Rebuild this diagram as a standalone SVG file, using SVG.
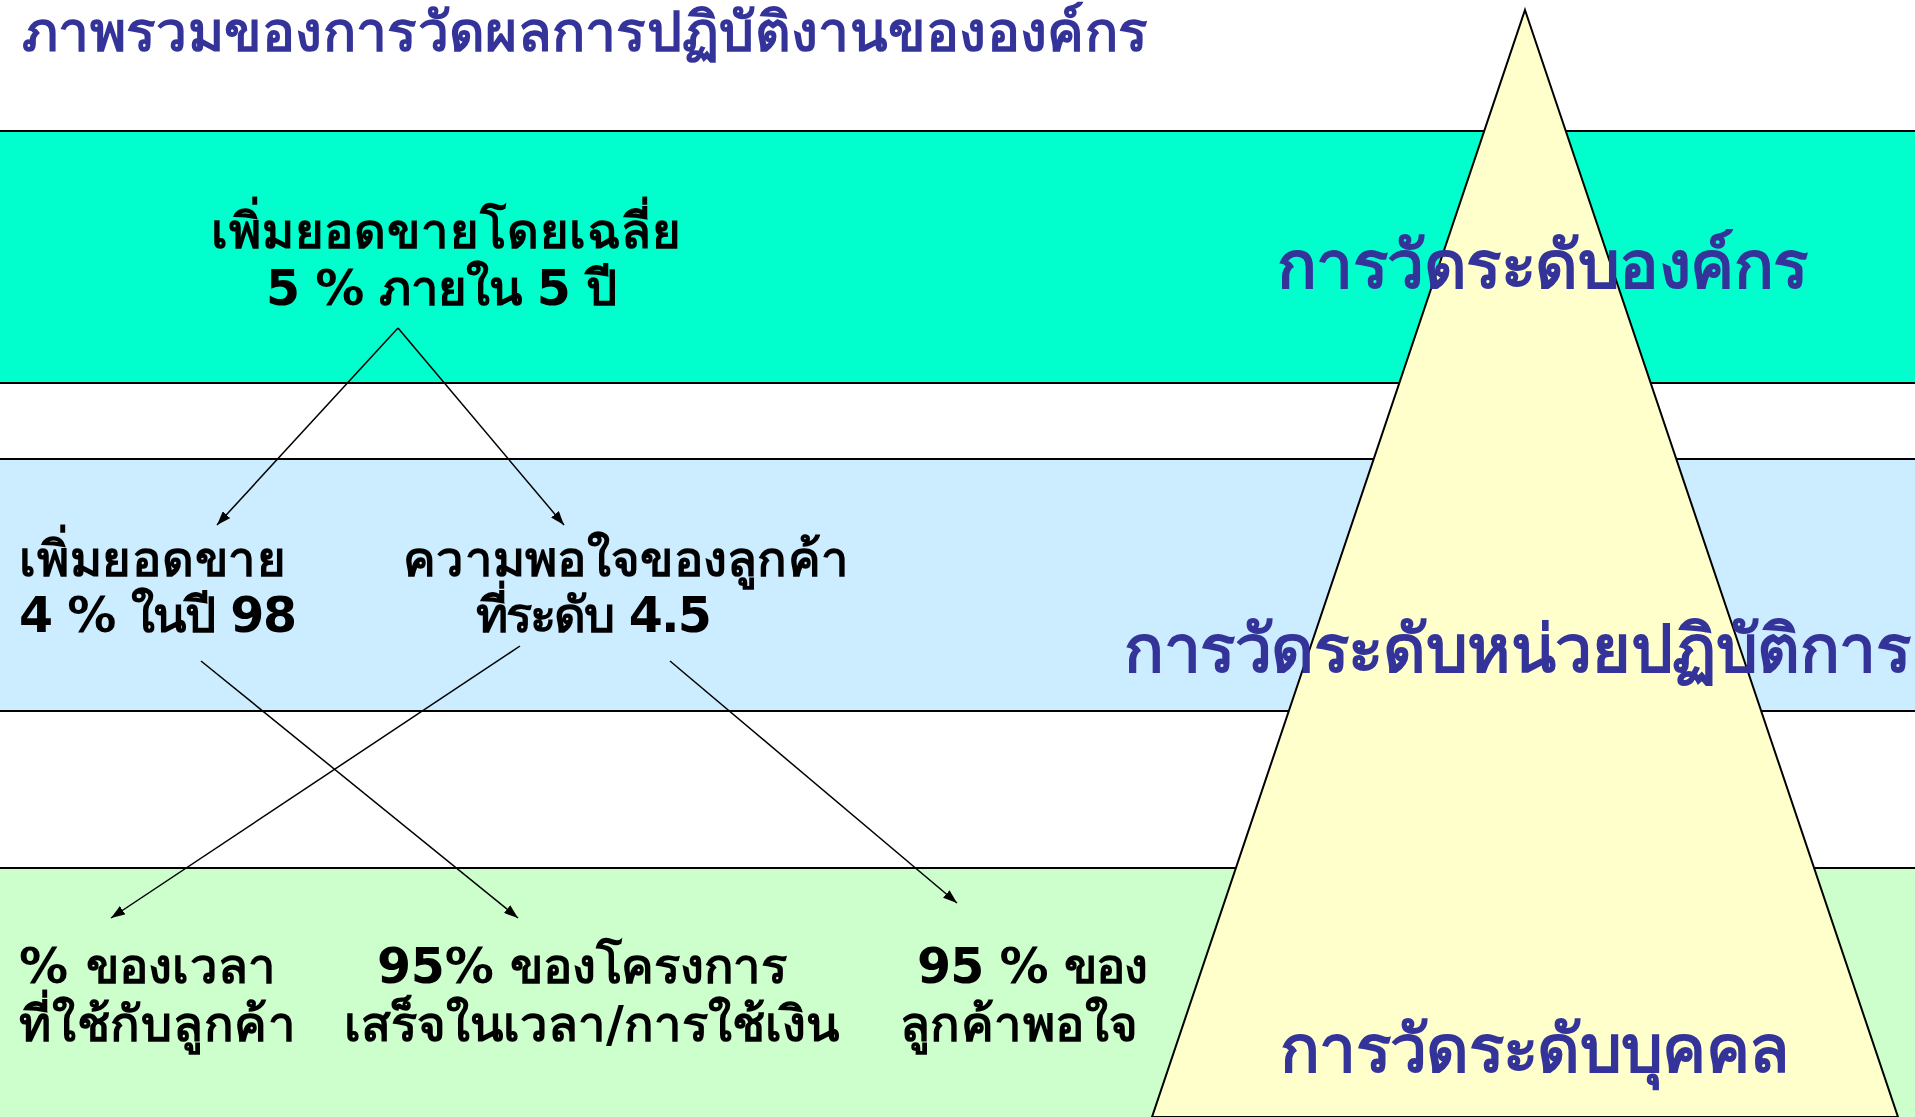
<svg xmlns="http://www.w3.org/2000/svg" width="1915" height="1117" viewBox="0 0 1915 1117">
<defs>
<marker id="ah" markerWidth="14" markerHeight="10" refX="14" refY="5" orient="auto" markerUnits="userSpaceOnUse">
<path d="M0,0 L14,5 L0,10 Z" fill="#000"/>
</marker>
<style>
.band{stroke:#000;stroke-width:2}
.lvl{font-family:"DejaVu Sans",sans-serif;font-weight:bold;fill:#333399;font-size:66px}
.t{font-family:"DejaVu Sans",sans-serif;font-weight:bold;fill:#000;font-size:49px}
.ttl{font-family:"DejaVu Sans",sans-serif;font-weight:bold;fill:#333399;font-size:55px}
.c{stroke:#000;stroke-width:1.5;fill:none;marker-end:url(#ah)}
</style>
</defs>
<rect width="1915" height="1117" fill="#fff"/>
<g id="bands">
<rect class="band" x="-5" y="131" width="1925" height="252" fill="#00FFCC"/>
<rect class="band" x="-5" y="459" width="1925" height="252" fill="#CCECFF"/>
<rect class="band" x="-5" y="868" width="1925" height="260" fill="#CCFFCC"/>
</g>
<g id="pyramid">
<polygon points="1525,10 1898,1117 1152,1117" fill="#FFFFCC" stroke="#000" stroke-width="2"/>
</g>
<g id="title"><text class="ttl" x="22" y="51" textLength="1126" lengthAdjust="spacing">ภาพรวมของการวัดผลการปฏิบัติงานขององค์กร</text></g>
<g id="level-org"><text class="lvl" x="1277" y="288" textLength="531" lengthAdjust="spacing">การวัดระดับองค์กร</text></g>
<g id="level-unit"><text class="lvl" x="1124" y="672" textLength="787" lengthAdjust="spacing">การวัดระดับหน่วยปฏิบัติการ</text></g>
<g id="level-person"><text class="lvl" x="1280" y="1072" textLength="509" lengthAdjust="spacing">การวัดระดับบุคคล</text></g>
<g id="n-goal"><text class="t" x="211" y="248" textLength="470" lengthAdjust="spacing">เพิ่มยอดขายโดยเฉลี่ย</text><text class="t" x="266" y="305" textLength="351" lengthAdjust="spacing">5 % ภายใน 5 ปี</text></g>
<g id="n-sales"><text class="t" x="19" y="576" textLength="267" lengthAdjust="spacing">เพิ่มยอดขาย</text><text class="t" x="19" y="632" textLength="278" lengthAdjust="spacing">4 % ในปี 98</text></g>
<g id="n-satisfaction"><text class="t" x="403" y="576" textLength="446" lengthAdjust="spacing">ความพอใจของลูกค้า</text><text class="t" x="474" y="632" textLength="236" lengthAdjust="spacing">ที่ระดับ 4.5</text></g>
<g id="n-time"><text class="t" x="19" y="983" textLength="257" lengthAdjust="spacing">% ของเวลา</text><text class="t" x="19" y="1041" textLength="277" lengthAdjust="spacing">ที่ใช้กับลูกค้า</text></g>
<g id="n-projects"><text class="t" x="377" y="983" textLength="410" lengthAdjust="spacing">95% ของโครงการ</text><text class="t" x="344" y="1041" textLength="495" lengthAdjust="spacing">เสร็จในเวลา/การใช้เงิน</text></g>
<g id="n-customers"><text class="t" x="917" y="983" textLength="231" lengthAdjust="spacing">95 % ของ</text><text class="t" x="900" y="1041" textLength="238" lengthAdjust="spacing">ลูกค้าพอใจ</text></g>
<g id="connectors">
<path class="c" d="M398,328 L217,525"/>
<path class="c" d="M398,328 L564,525"/>
<path class="c" d="M201,661 L518,918"/>
<path class="c" d="M520,646 L111,918"/>
<path class="c" d="M670,661 L957,903"/>
</g>
</svg>
